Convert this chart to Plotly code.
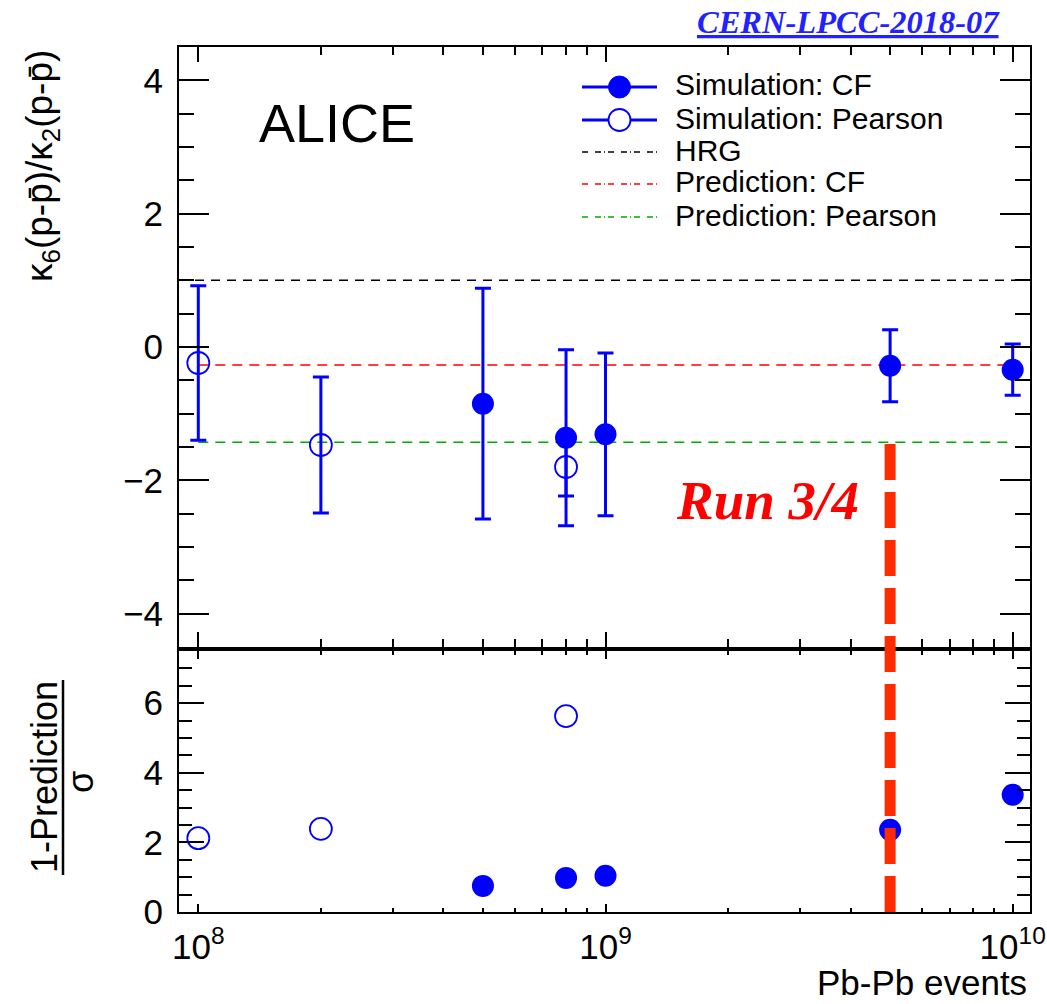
import plotly.graph_objects as go

# Simulated kappa6/kappa2 of net protons versus number of Pb-Pb events
cf_events = [5e8, 8e8, 1e9, 5e9, 1e10]
cf_ratio = [-0.85, -1.36, -1.31, -0.28, -0.34]
cf_sigma = [1.73, 1.32, 1.22, 0.54, 0.385]

pearson_events = [1e8, 2e8, 8e8]
pearson_ratio = [-0.24, -1.47, -1.80]
pearson_sigma = [1.16, 1.02, 0.435]

# Significance (1 - Prediction)/sigma
cf_signif = [0.75, 0.98, 1.04, 2.36, 3.37]
pearson_signif = [2.12, 2.39, 5.63]

# Reference levels
hrg_value = 1.0
pred_cf_value = -0.27
pred_pearson_value = -1.43
pred_events = [1e8, 1e10]
run34_events = 5e9

legend_labels = ["Simulation: CF", "Simulation: Pearson", "HRG",
                 "Prediction: CF", "Prediction: Pearson"]
x_tick_vals = [1e8, 1e9, 1e10]
x_tick_text = ["10<sup>8</sup>", "10<sup>9</sup>", "10<sup>10</sup>"]
x_minor_vals = [m * 10 ** e for e in (8, 9) for m in range(2, 10)]

W, H = 1047, 1004
L, R, T, B = 179, 17, 47, 92
BLUE = "#0000ff"
SANS = "Liberation Sans, Arial, Helvetica, sans-serif"
SERIF = "Liberation Serif, Times New Roman, serif"


def px(xp):
    return (xp - L) / (W - L - R)


def py(yp):
    return (H - B - yp) / (H - T - B)


fig = go.Figure()

# prediction lines (top panel)
fig.add_trace(go.Scatter(x=pred_events, y=[pred_cf_value] * 2, mode="lines",
                         line=dict(color="#ff0000", width=1.5, dash="10px,7px"),
                         xaxis="x", yaxis="y", showlegend=False, hoverinfo="skip"))
fig.add_trace(go.Scatter(x=pred_events, y=[pred_pearson_value] * 2, mode="lines",
                         line=dict(color="#00aa00", width=1.5, dash="10px,7px"),
                         xaxis="x", yaxis="y", showlegend=False, hoverinfo="skip"))

# simulation points (top panel)
fig.add_trace(go.Scatter(
    x=pearson_events, y=pearson_ratio, mode="markers",
    error_y=dict(type="data", array=pearson_sigma, color=BLUE, thickness=3, width=8),
    marker=dict(symbol="circle-open", size=22, color=BLUE, line=dict(width=1.8, color=BLUE)),
    xaxis="x", yaxis="y", showlegend=False))
fig.add_trace(go.Scatter(
    x=cf_events, y=cf_ratio, mode="markers",
    error_y=dict(type="data", array=cf_sigma, color=BLUE, thickness=3, width=8),
    marker=dict(symbol="circle", size=22, color=BLUE),
    xaxis="x", yaxis="y", showlegend=False))

# significance (bottom panel)
fig.add_trace(go.Scatter(
    x=pearson_events, y=pearson_signif, mode="markers",
    marker=dict(symbol="circle-open", size=22, color=BLUE, line=dict(width=1.8, color=BLUE)),
    xaxis="x2", yaxis="y2", showlegend=False))
fig.add_trace(go.Scatter(
    x=cf_events, y=cf_signif, mode="markers",
    marker=dict(symbol="circle", size=22, color=BLUE),
    xaxis="x2", yaxis="y2", showlegend=False))

shapes = []
# HRG level across the full top panel
shapes.append(dict(type="line", xref="x domain", yref="y", x0=0, x1=1,
                   y0=hrg_value, y1=hrg_value,
                   line=dict(color="black", width=1.5, dash="9px,7px"), layer="below"))
# Run 3/4 marker line through both panels
shapes.append(dict(type="line", xref="x", yref="paper", x0=run34_events, x1=run34_events,
                   y0=py(444), y1=py(914),
                   line=dict(color="#ff2a00", width=11, dash="36px,12px")))
# fraction bar of the lower y title
shapes.append(dict(type="line", xref="paper", yref="paper", x0=px(63), x1=px(63),
                   y0=py(680), y1=py(875), line=dict(color="black", width=2.5)))

# legend glyphs
rows = [87, 120, 152, 184, 217]
lx0, lx1, lxm, ltx = 582, 657, 619.5, 673
styles = [("solid", BLUE, 3), ("solid", BLUE, 3),
          ("6px,7px,6px,3px,1px,3px", "black", 1.5),
          ("6px,7px,6px,3px,1px,3px", "#ff0000", 1.5),
          ("6px,7px,6px,3px,1px,3px", "#00aa00", 1.5)]
for r, (dash, col, w) in zip(rows, styles):
    shapes.append(dict(type="line", xref="paper", yref="paper", x0=px(lx0), x1=px(lx1),
                       y0=py(r), y1=py(r), line=dict(color=col, width=w, dash=dash)))
shapes.append(dict(type="circle", xref="paper", yref="paper", xsizemode="pixel",
                   ysizemode="pixel", xanchor=px(lxm), yanchor=py(rows[0]),
                   x0=-11, x1=11, y0=-11, y1=11, fillcolor=BLUE, line=dict(color=BLUE, width=1)))
shapes.append(dict(type="circle", xref="paper", yref="paper", xsizemode="pixel",
                   ysizemode="pixel", xanchor=px(lxm), yanchor=py(rows[1]),
                   x0=-11, x1=11, y0=-11, y1=11, fillcolor="white", line=dict(color=BLUE, width=1.8)))

annotations = []
for r, lab in zip(rows, legend_labels):
    annotations.append(dict(text=lab, xref="paper", yref="paper", x=px(ltx), y=py(r - 2),
                            xanchor="left", yanchor="middle", showarrow=False,
                            font=dict(family=SANS, size=30, color="black")))

annotations += [
    dict(text="ALICE", xref="paper", yref="paper", x=px(337), y=py(123),
         xanchor="center", yanchor="middle", showarrow=False,
         font=dict(family=SANS, size=54, color="black")),
    dict(text="Run 3/4", xref="paper", yref="paper", x=px(767.5), y=py(500),
         xanchor="center", yanchor="middle", showarrow=False,
         font=dict(family=SERIF, size=55, color="#ff0000", weight="bold", style="italic")),
    dict(text="CERN-LPCC-2018-07", xref="paper", yref="paper", x=px(848.5), y=py(22),
         xanchor="center", yanchor="middle", showarrow=False,
         font=dict(family=SERIF, size=32.5, color="#2222ff", weight="bold", style="italic",
                   lineposition="under")),
    dict(text="κ<sub>6</sub>(p-p\u0304)/κ<sub>2</sub>(p-p\u0304)", xref="paper", yref="paper",
         x=px(41.5), y=py(166.5), xanchor="center", yanchor="middle", textangle=-90,
         showarrow=False, font=dict(family=SANS, size=37, color="black")),
    dict(text="1-Prediction", xref="paper", yref="paper", x=px(44.5), y=py(777.5),
         xanchor="center", yanchor="middle", textangle=-90, showarrow=False,
         font=dict(family=SANS, size=36, color="black")),
    dict(text="σ", xref="paper", yref="paper", x=px(80), y=py(782),
         xanchor="center", yanchor="middle", textangle=-90, showarrow=False,
         font=dict(family=SANS, size=36, color="black")),
    dict(text="Pb-Pb events", xref="paper", yref="paper", x=px(1029), y=py(982),
         xanchor="right", yanchor="middle", showarrow=False,
         font=dict(family=SANS, size=35, color="black")),
]

xr = [7.9526, 10.0425]
common_x = dict(type="log", range=xr, tickmode="array", tickvals=x_tick_vals,
                ticks="inside", tickwidth=1.5, tickcolor="black", automargin=False,
                showline=True, linewidth=2, linecolor="black", mirror="ticks",
                showgrid=False, zeroline=False,
                minor=dict(tickmode="array", tickvals=x_minor_vals, ticks="inside",
                           tickcolor="black", tickwidth=1.5, showgrid=False))

xaxis = dict(common_x, anchor="y", showticklabels=False, ticklen=15)
xaxis["minor"] = dict(common_x["minor"], ticklen=8)
xaxis2 = dict(common_x, anchor="y2", matches="x", ticktext=x_tick_text, ticklen=8,
              tickfont=dict(family=SANS, size=35, color="black"), ticklabelstandoff=3)
xaxis2["minor"] = dict(common_x["minor"], ticklen=4)

common_y = dict(ticks="inside", tickwidth=1.5, tickcolor="black", showline=True,
                linewidth=2, linecolor="black", mirror="ticks", showgrid=False,
                zeroline=False, tickfont=dict(family=SANS, size=35, color="black"),
                ticklabelstandoff=7, automargin=False)
yaxis = dict(common_y, domain=[py(647), 1], range=[-4.5, 4.5], dtick=2, tick0=0,
             ticklen=30, anchor="x",
             minor=dict(dtick=0.5, ticks="inside", ticklen=15, tickcolor="black",
                        tickwidth=1.5, showgrid=False))
yaxis2 = dict(common_y, domain=[0, py(651)], range=[0, 7.5], dtick=2, tick0=0,
              ticklen=25, anchor="x2",
              minor=dict(dtick=0.5, ticks="inside", ticklen=13, tickcolor="black",
                         tickwidth=1.5, showgrid=False))

fig.update_layout(
    width=W, height=H, margin=dict(l=L, r=R, t=T, b=B, autoexpand=False),
    paper_bgcolor="white", plot_bgcolor="white",
    xaxis=xaxis, xaxis2=xaxis2, yaxis=yaxis, yaxis2=yaxis2,
    shapes=shapes, annotations=annotations, showlegend=False,
)

fig.write_html("out.html")
